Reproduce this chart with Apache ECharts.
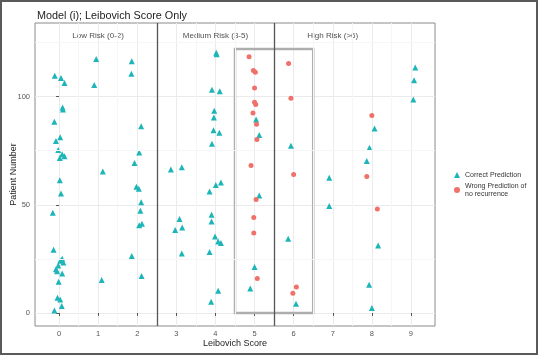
<!DOCTYPE html>
<html>
<head>
<meta charset="utf-8">
<script src="https://cdn.jsdelivr.net/npm/echarts@6/dist/echarts.min.js"></script>
<style>
html,body{margin:0;padding:0;background:#fff;}
#main{width:538px;height:356px;}
</style>
</head>
<body>
<div id="main"></div>
<script>
// 正确预测 (三角形)
var correctScore=[-0.11,0.05,0.14,0.09,0.10,-0.12,0.03,-0.08,-0.02,0.08,0.14,0.02,0.02,0.05,-0.16,-0.14,0.08,0.03,0.11,-0.02,-0.08,-0.05,0.08,-0.01,-0.04,0.03,0.07,-0.12,
	0.95,0.90,1.12,1.09,
	1.86,1.85,2.10,2.05,1.93,1.98,2.04,2.10,2.08,2.05,2.12,1.86,2.11,
	3.14,2.86,3.08,3.15,2.97,3.14,
	4.02,4.03,3.91,4.11,3.97,3.96,3.95,4.10,3.91,4.14,4.01,3.85,3.90,3.90,3.99,4.07,4.14,3.85,4.07,3.89,
	5.04,5.12,5.12,5.00,4.89,
	5.93,5.86,6.06,
	6.91,6.91,
	8.07,7.94,7.87,8.16,7.93,8.00,
	9.11,9.08,9.06];
var correctPatient=[109.6,108.6,106.3,94.9,94.0,88.4,81.2,79.5,75.3,73.3,72.4,71.6,61.4,55.2,46.3,29.2,25.1,24.1,23.3,21.9,20.2,19.3,18.2,14.4,7.1,6.2,3.2,1.2,
	117.4,105.4,65.4,15.3,
	116.3,110.5,86.3,74.2,69.3,58.3,57.4,51.2,47.2,40.6,41.3,26.4,17.1,
	67.4,66.3,43.4,39.5,38.3,27.5,
	120.2,119.6,103.2,102.5,93.5,90.3,84.4,83.3,78.2,60.3,59.1,56.2,45.4,42.3,35.3,33.0,32.3,28.2,10.3,5.2,
	89.4,82.3,54.3,21.3,11.3,
	77.3,34.3,4.3,
	62.5,49.5,
	85.3,76.4,70.2,31.2,13.1,2.3,
	113.4,107.5,98.6];
// 错误预测 (圆点)
var wrongScore=[4.86,4.97,5.02,5.00,5.00,5.03,4.96,5.05,5.06,4.91,5.04,4.98,4.98,5.07,
	5.87,5.93,6.00,6.07,5.98,
	8.00,7.87,8.14];
var wrongPatient=[118.4,112.0,111.3,104.0,97.4,96.4,92.4,87.2,80.2,68.2,52.5,44.1,37.0,16.0,
	115.3,99.2,64.0,12.0,9.1,
	91.3,63.1,48.1];

var xTicks=[0,1,2,3,4,5,6,7,8,9];
var yTicks=[0,50,100];
var xMinor=[0.5,1.5,3.5,4.5,6.5,7.5,8.5];
var yMinor=[25,75,125];
var riskNames=['Low Risk (0-2)','Medium Risk (3-5)','High Risk (>6)'];
var riskCenters=[1,4,7];
var riskBounds=[2.5,5.5];
var boxScore=[4.5,6.5];
var boxPatient=[0,122];

var zip=function(a,b){
	var out=[];
	for(var i=0;i<a.length;i++){out.push([a[i],b[i]]);}
	return out;
};

var myChart=echarts.init(document.getElementById('main'));
var teal='#1db5b8';
var red='#f0716a';

var minorLines=[];
xMinor.forEach(function(v){minorLines.push({xAxis:v});});
yMinor.forEach(function(v){minorLines.push({yAxis:v});});

var option={
	animation:false,
	backgroundColor:'#fff',
	title:{
		text:'Model (i); Leibovich Score Only',
		left:32,top:6,
		textStyle:{fontFamily:'Liberation Sans',fontSize:10.8,fontWeight:'normal',color:'#222'}
	},
	grid:{left:35,right:103,top:23,bottom:30,outerBoundsMode:'none',containLabel:false,
		show:true,borderColor:'#8a8a8a',borderWidth:1,backgroundColor:'#fff'},
	legend:{
		orient:'vertical',left:449,top:166,itemGap:3,
		itemWidth:6,itemHeight:6,
		textStyle:{fontFamily:'Liberation Sans',fontSize:7,color:'#333',lineHeight:8},
		data:[{name:'Correct Prediction',icon:'triangle'},{name:'Wrong Prediction of\nno recurrence',icon:'circle'}]
	},
	xAxis:{
		type:'value',min:-0.615,max:9.615,
		name:'Leibovich Score',nameLocation:'middle',nameGap:13,nameMoveOverlap:false,
		nameTextStyle:{fontFamily:'Liberation Sans',fontSize:9,color:'#222'},
		axisLine:{show:false},
		axisTick:{show:true,length:3,customValues:xTicks,lineStyle:{color:'#555'}},
		axisLabel:{customValues:xTicks,fontFamily:'Liberation Sans',fontSize:7.5,color:'#555',margin:4},
		splitLine:{show:true,lineStyle:{color:'#ebebeb',width:1}}
	},
	yAxis:{
		type:'value',min:-6,max:134,
		name:'Patient Number',nameLocation:'middle',nameGap:17,nameMoveOverlap:false,
		nameTextStyle:{fontFamily:'Liberation Sans',fontSize:9,color:'#222'},
		axisLine:{show:false},
		axisTick:{show:true,length:3,customValues:yTicks,lineStyle:{color:'#555'}},
		axisLabel:{customValues:yTicks,fontFamily:'Liberation Sans',fontSize:7.5,color:'#555',margin:5},
		splitLine:{show:true,lineStyle:{color:'#ebebeb',width:1}}
	},
	graphic:[{
		type:'rect',shape:{x:1,y:1,width:536,height:353},
		style:{fill:null,stroke:'#5a5a5a',lineWidth:2},silent:true,z:100
	}],
	series:[
		{
			name:'grid-minor',type:'scatter',data:[],z:0,silent:true,
			markLine:{silent:true,symbol:'none',label:{show:false},
				lineStyle:{color:'#f6f6f6',width:1,type:'solid'},data:minorLines}
		},
		{
			name:'risk',type:'scatter',symbolSize:0,silent:true,z:2,
			data:riskCenters.map(function(c,i){return [c,128,riskNames[i]];}),
			label:{show:true,position:'inside',formatter:function(p){return p.value[2];},
				fontFamily:'Liberation Sans',fontSize:8,color:'#222'},
			markLine:{silent:true,symbol:'none',label:{show:false},
				lineStyle:{color:'#555',width:1.3,type:'solid'},
				data:riskBounds.map(function(v){return {xAxis:v};})},
			markArea:{silent:true,
				itemStyle:{color:'rgba(0,0,0,0)',borderColor:'#aeaeae',borderWidth:2.5},
				data:[[{coord:[boxScore[0],boxPatient[0]]},{coord:[boxScore[1],boxPatient[1]]}]]}
		},
		{
			name:'Correct Prediction',type:'scatter',symbol:'triangle',symbolSize:6,z:3,
			itemStyle:{color:teal,opacity:1},
			data:zip(correctScore,correctPatient)
		},
		{
			name:'Wrong Prediction of\nno recurrence',type:'scatter',symbol:'circle',symbolSize:5,z:4,
			itemStyle:{color:red,opacity:1},
			data:zip(wrongScore,wrongPatient)
		}
	]
};
if(option && typeof option==="object"){
	myChart.setOption(option,true);
}
</script>
</body>
</html>
